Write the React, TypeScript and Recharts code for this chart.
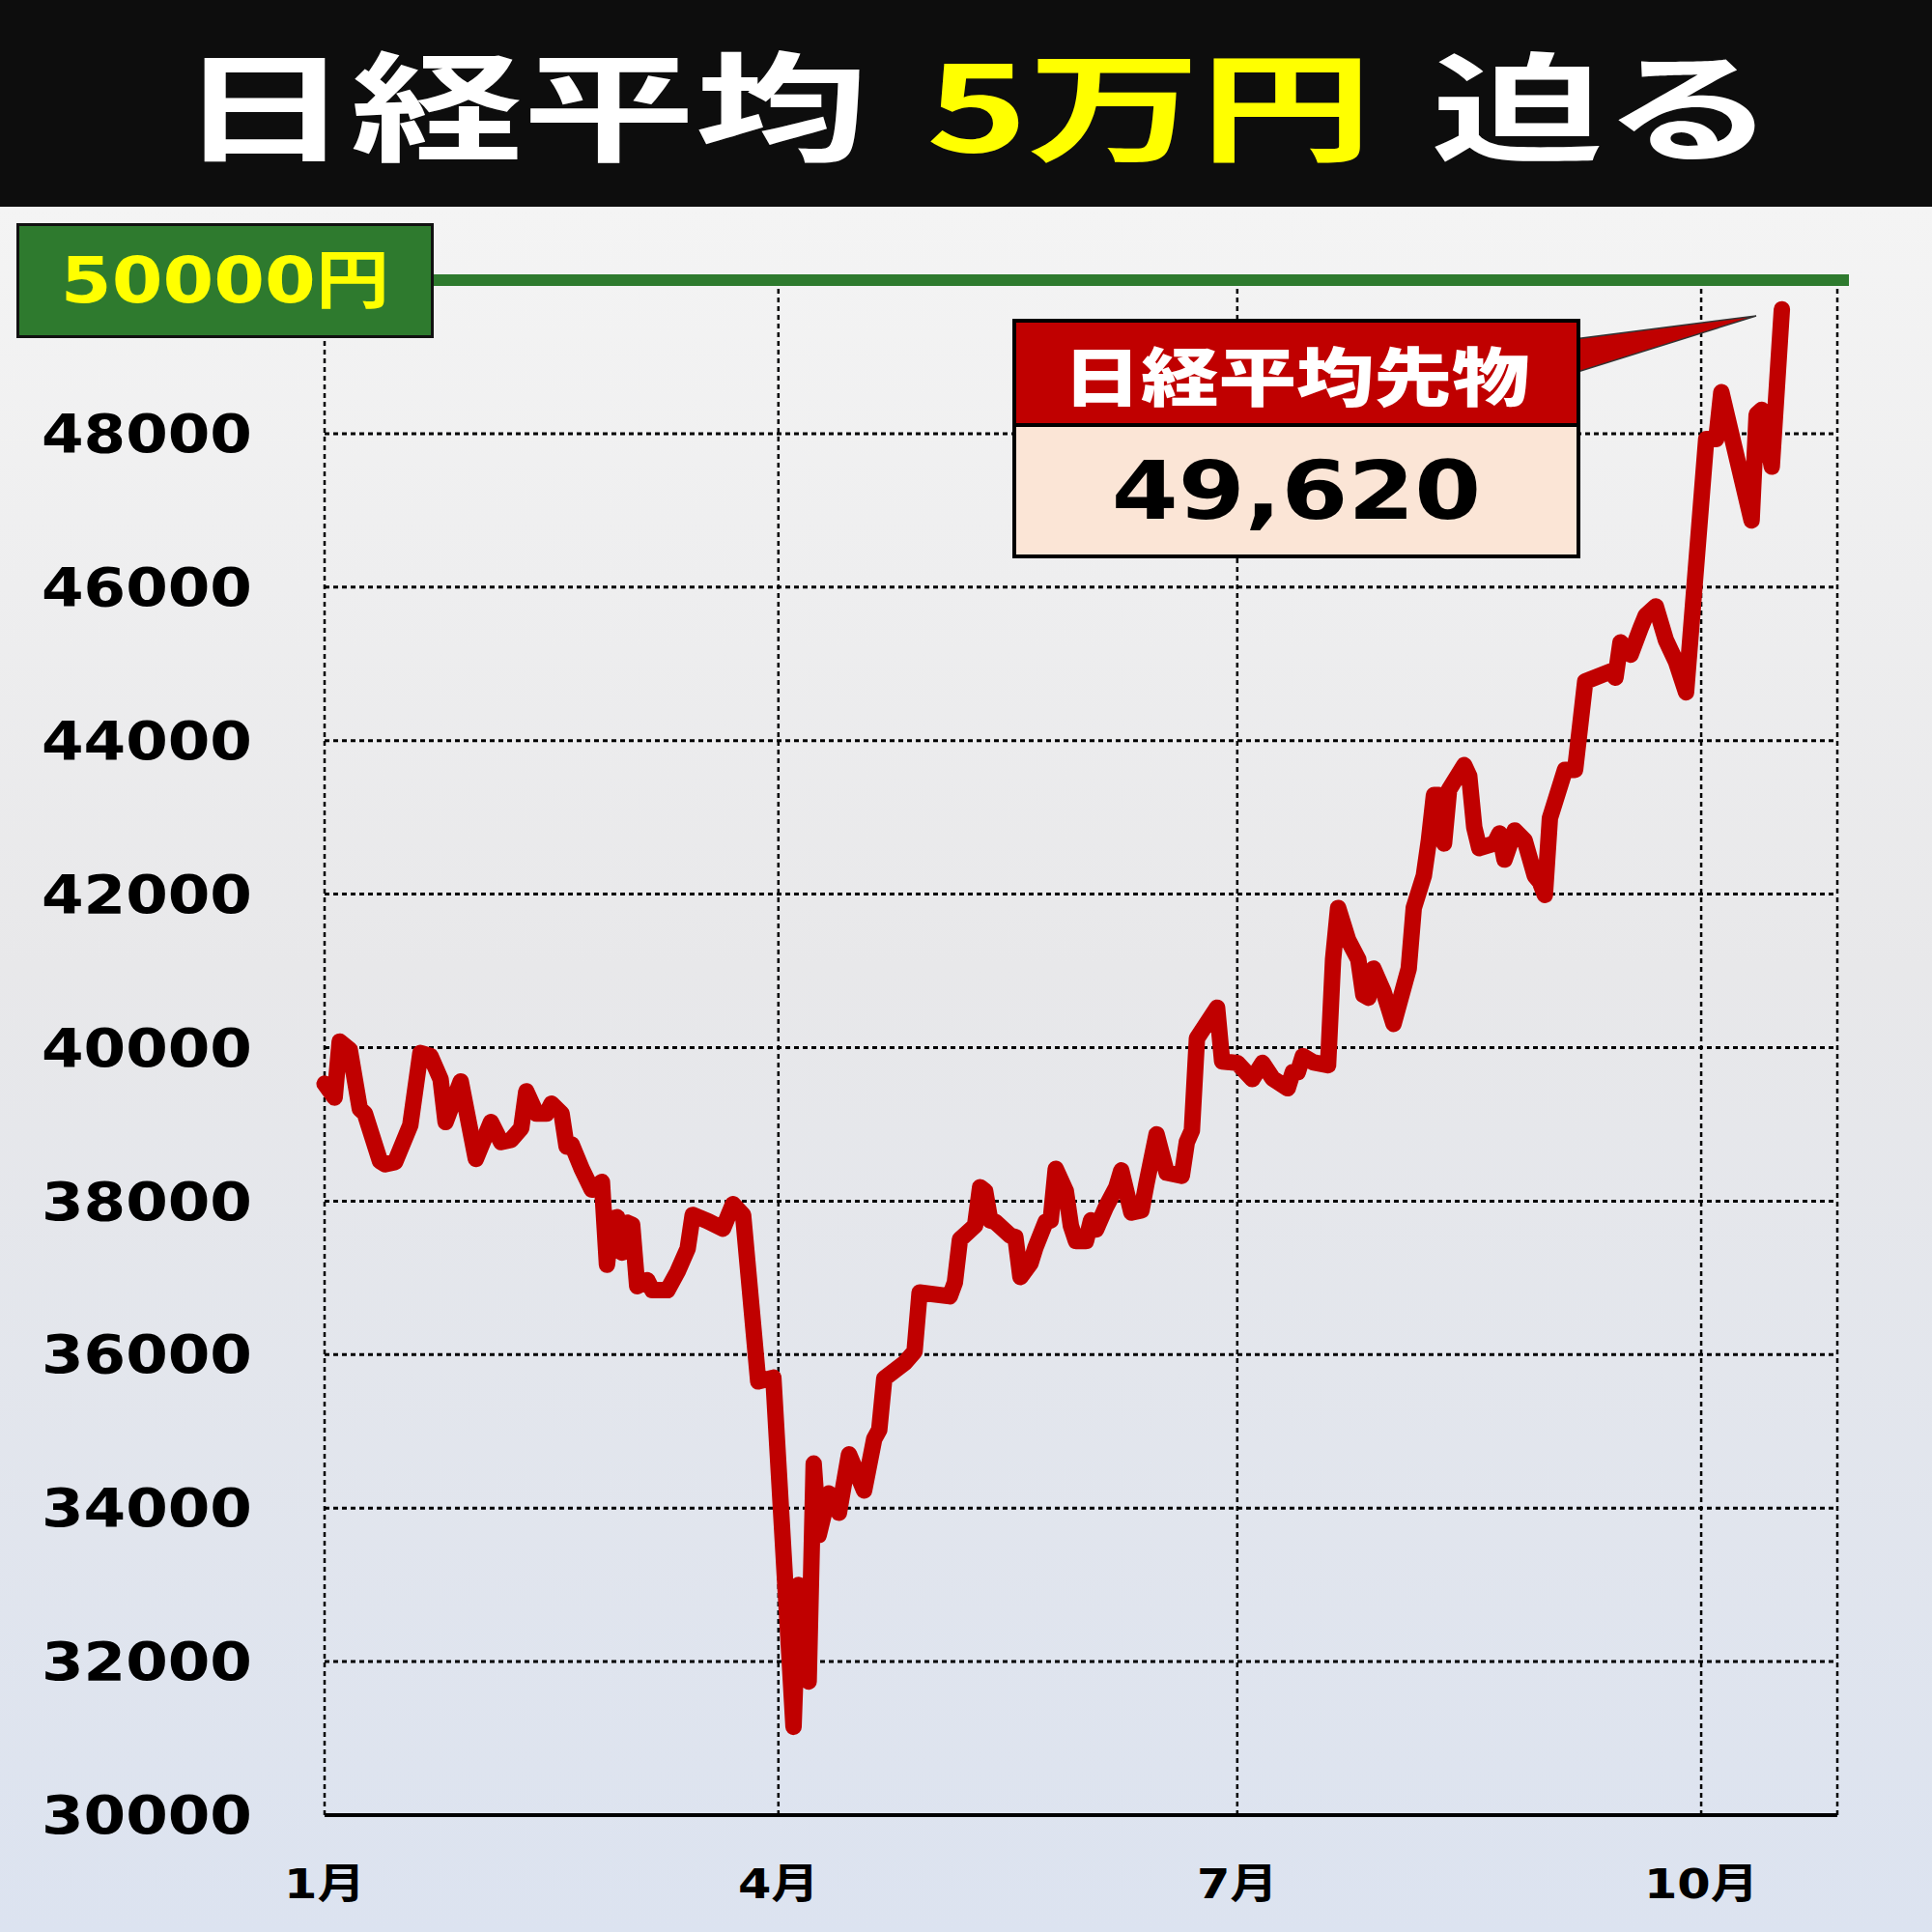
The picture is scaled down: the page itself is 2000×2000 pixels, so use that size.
import React from 'react';
import { LineChart, Line, XAxis, YAxis, CartesianGrid, ReferenceLine } from 'recharts';

// day of year (0 = Jan 1) and Nikkei futures close
const days = [
  0, 2, 3, 5, 7, 8, 11, 12, 14, 17, 19, 21, 23, 24, 27, 30, 33, 35, 37, 39,
  40, 42, 44, 45, 47, 48, 49, 51, 53, 55, 56, 57, 58, 59, 60, 61, 62, 64, 65, 68,
  70, 72, 73, 76, 79, 81, 83, 86, 89, 93, 94, 96, 97, 98, 100, 102, 104, 107, 109, 110,
  111, 115, 117, 118, 124, 125, 126, 129, 130, 131, 132, 133, 136, 137, 138, 140, 141, 143, 144, 145,
  147, 148, 149, 151, 152, 153, 155, 157, 158, 160, 162, 163, 165, 167, 170, 171, 172, 173, 177, 178,
  181, 184, 186, 188, 191, 192, 193, 194, 196, 199, 200, 201, 203, 205, 206, 207, 208, 210, 212, 215,
  216, 218, 219, 220, 221, 222, 223, 226, 227, 228, 229, 232, 233, 234, 236, 238, 240, 241, 242, 243,
  246, 248, 250, 255, 256, 257, 259, 261, 262, 264, 266, 268, 270, 274, 276, 277, 283, 284, 285, 287,
  289,
];
const prices = [
  39530, 39350, 40080, 39970, 39200, 39140, 38520, 38480, 38510, 38990, 39930, 39890, 39590, 39030, 39560, 38550, 39030, 38770, 38800, 38950,
  39430, 39140, 39140, 39270, 39140, 38710, 38740, 38420, 38150, 38250, 37170, 37770, 37790, 37330, 37720, 37690, 36890, 36970, 36840, 36840,
  37080, 37380, 37820, 37740, 37640, 37960, 37820, 35650, 35700, 31150, 33000, 31740, 34580, 33650, 34190, 33940, 34700, 34230, 34900, 35020,
  35690, 35890, 36040, 36810, 36760, 36940, 37500, 37680, 38180, 38130, 37750, 37730, 37550, 37530, 37010, 37190, 37400, 37730, 37750, 38420,
  38130, 37680, 37480, 37480, 37750, 37630, 37930, 38180, 38400, 37850, 37880, 38230, 38870, 38370, 38330, 38770, 38920, 40120, 40520, 39820,
  39800, 39590, 39800, 39600, 39470, 39680, 39680, 39890, 39810, 39770, 41150, 41820, 41400, 41150, 40690, 40650, 41030, 40730, 40310, 41030,
  41820, 42240, 42700, 43290, 43290, 42660, 43360, 43680, 43540, 42870, 42600, 42660, 42790, 42450, 42830, 42700, 42240, 42160, 41990, 42990,
  43620, 43620, 44770, 44900, 44820, 45280, 45120, 45470, 45630, 45750, 45310, 45030, 44630, 47930, 47930, 48540, 46870, 48250, 48310, 47570,
  49620,
];

const yTicks = [30000, 32000, 34000, 36000, 38000, 40000, 42000, 44000, 46000, 48000];
const monthTicks = [0, 90, 181, 273];
const monthLabels = ['1月', '4月', '7月', '10月'];
const targetLevel = 50000;
const latestPrice = 49620;

const data = days.map((d, i) => ({ day: d, price: prices[i] }));

const numFont = '"DejaVu Sans", "Noto Sans CJK JP", sans-serif';
const jpFont = '"Noto Sans CJK JP", "DejaVu Sans", sans-serif';

const YTick = (props: any) => {
  const { y, payload } = props;
  return (
    <text
      transform={`translate(261,${y}) scale(1.14,1)`}
      textAnchor="end"
      dominantBaseline="central"
      fontFamily={numFont}
      fontWeight="bold"
      fontSize={55}
      fill="#000"
    >
      {payload.value}
    </text>
  );
};

const XTick = (props: any) => {
  const { x, payload } = props;
  const label = monthLabels[monthTicks.indexOf(payload.value)];
  return (
    <text
      transform={`translate(${x},1950) scale(1.15,1)`}
      textAnchor="middle"
      dominantBaseline="central"
      fontFamily={numFont}
      fontWeight="bold"
      fontSize={43}
      fill="#000"
    >
      {label}
    </text>
  );
};

const App = () => {
  return (
    <div
      style={{
        position: 'absolute',
        left: 0,
        top: 0,
        width: 2000,
        height: 2000,
        overflow: 'hidden',
        background:
          'linear-gradient(to bottom, #0d0d0d 0px, #0d0d0d 214px, #f4f4f4 214px, #e8e8ea 1000px, #dce3f0 2000px)',
      }}
    >
      {/* title */}
      <div
        style={{
          position: 'absolute',
          left: 0,
          top: 0,
          width: 2000,
          height: 214,
          display: 'flex',
          alignItems: 'center',
          justifyContent: 'center',
        }}
      >
        <span
          style={{
            display: 'inline-block',
            position: 'relative',
            top: -4,
            left: 11,
            transform: 'scaleX(1.45)',
            fontFamily: jpFont,
            fontWeight: 700,
            fontSize: 123,
            lineHeight: 1,
            color: '#fff',
            whiteSpace: 'nowrap',
          }}
        >
          日経平均
          <span style={{ display: 'inline-block', width: 42 }} />
          <span style={{ color: '#ffff00' }}>5万円</span>
          <span style={{ display: 'inline-block', width: 42 }} />
          迫る
        </span>
      </div>

      <LineChart
        width={2000}
        height={2000}
        data={data}
        margin={{ top: 290, right: 98, bottom: 0, left: 0 }}
        style={{ position: 'absolute', left: 0, top: 0 }}
      >
        <CartesianGrid horizontal={true} vertical={false} stroke="#000" strokeDasharray="5 4" strokeWidth={3} />
        <CartesianGrid horizontal={false} vertical={true} stroke="#000" strokeDasharray="5 4" strokeWidth={2.5} />
        <XAxis
          dataKey="day"
          type="number"
          domain={[0, 300]}
          ticks={monthTicks}
          height={121}
          tickLine={false}
          axisLine={{ stroke: '#000', strokeWidth: 4 }}
          tick={<XTick />}
        />
        <YAxis
          type="number"
          domain={[30000, 50000]}
          ticks={yTicks}
          width={336}
          axisLine={false}
          tickLine={false}
          tick={<YTick />}
        />
        <ReferenceLine
          segment={[{ x: 0, y: targetLevel }, { x: 302.3, y: targetLevel }]}
          stroke="#2e7a2e"
          strokeWidth={12}
          ifOverflow="visible"
        />
        <Line
          type="linear"
          dataKey="price"
          stroke="#c00000"
          strokeWidth={17}
          strokeLinejoin="round"
          strokeLinecap="round"
          dot={false}
          activeDot={false}
          isAnimationActive={false}
        />
      </LineChart>

      {/* 50000円 label */}
      <div
        style={{
          position: 'absolute',
          left: 17,
          top: 231,
          width: 432,
          height: 119,
          boxSizing: 'border-box',
          background: '#2e7a2e',
          border: '3px solid #111',
          display: 'flex',
          alignItems: 'center',
          justifyContent: 'center',
        }}
      >
        <span
          style={{
            display: 'inline-block',
            transform: 'scaleX(1.15)',
            fontFamily: numFont,
            fontWeight: 'bold',
            fontSize: 66,
            lineHeight: 1,
            color: '#ffff00',
          }}
        >
          {targetLevel}円
        </span>
      </div>

      {/* callout pointer */}
      <svg width={2000} height={2000} style={{ position: 'absolute', left: 0, top: 0 }}>
        <polygon points="1630,351 1630,386 1818,327" fill="#c00000" stroke="#333" strokeWidth={1.5} />
      </svg>

      {/* callout box */}
      <div
        style={{
          position: 'absolute',
          left: 1048,
          top: 330,
          width: 588,
          height: 248,
          boxSizing: 'border-box',
          border: '4px solid #000',
          background: '#fbe5d6',
        }}
      >
        <div
          style={{
            height: 108,
            background: '#c00000',
            borderBottom: '4px solid #000',
            boxSizing: 'border-box',
            display: 'flex',
            alignItems: 'center',
            justifyContent: 'center',
          }}
        >
          <span
            style={{
              display: 'inline-block',
              transform: 'scaleX(1.22)',
              fontFamily: jpFont,
              fontWeight: 900,
              fontSize: 66,
              lineHeight: 1,
              color: '#fff',
            }}
          >
            日経平均先物
          </span>
        </div>
        <div
          style={{
            height: 132,
            display: 'flex',
            alignItems: 'center',
            justifyContent: 'center',
          }}
        >
          <span
            style={{
              display: 'inline-block',
              transform: 'scaleX(1.18)',
              fontFamily: numFont,
              fontWeight: 'bold',
              fontSize: 84,
              lineHeight: 1,
              color: '#000',
            }}
          >
            {latestPrice.toLocaleString('en-US')}
          </span>
        </div>
      </div>
    </div>
  );
};

export default App;
